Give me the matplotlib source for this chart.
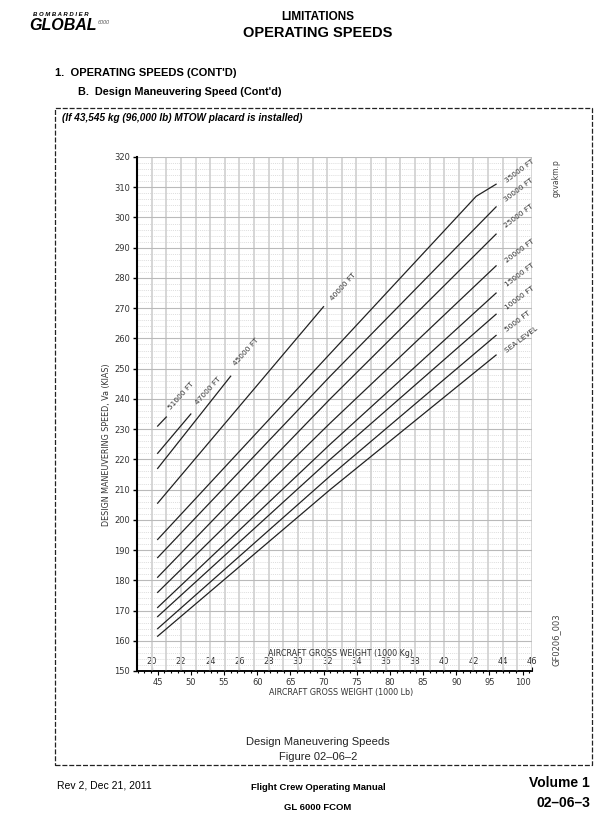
import matplotlib
matplotlib.use("Agg")
import matplotlib.pyplot as plt
import numpy as np
from matplotlib.patches import Rectangle

LB_PER_KG = 2.20462
W, H = 600, 817

# curves: gross weight (1000 lb) vs Va (KIAS)
w_common = [45, 71, 96]
v_sea = [161.5, 210, 254.5]
v_5k = [164, 214.5, 261]
v_10k = [168, 220, 268]
v_15k = [171, 225, 275]
v_20k = [176, 232, 284]
v_25k = [181, 240, 294.5]
v_30k = [187.5, 247.5, 303.5]
w_35k = [45, 93, 96]
v_35k = [193.5, 307, 311]
w_40k = [45, 70]
v_40k = [205.5, 270.5]
w_45k = [45, 56]
v_45k = [217, 247.5]
w_47k = [45, 50]
v_47k = [222, 235]
w_51k = [45, 46.3]
v_51k = [231, 234]

labels_right = ["SEA LEVEL", "5000 FT", "10000 FT", "15000 FT", "20000 FT",
                "25000 FT", "30000 FT", "35000 FT"]
labels_left = ["40000 FT", "45000 FT", "47000 FT", "51000 FT"]

y_ticks = list(range(150, 321, 10))
lb_ticks = list(range(45, 101, 5))
kg_ticks = list(range(20, 47, 2))

curves = [
    (w_common, v_sea), (w_common, v_5k), (w_common, v_10k), (w_common, v_15k),
    (w_common, v_20k), (w_common, v_25k), (w_common, v_30k), (w_35k, v_35k),
    (w_40k, v_40k), (w_45k, v_45k), (w_47k, v_47k), (w_51k, v_51k),
]
# label anchor points (data units) and rotation
right_pos = [(99.8, 259.5), (99.3, 265.5), (99.6, 273.5), (99.6, 281),
             (99.6, 289), (99.4, 300.5), (99.4, 309), (99.6, 315.5)]
left_pos = [(72.9, 277), (58.3, 255.5), (52.6, 242.8), (48.6, 241)]

doc = ["Liberation Sans", "DejaVu Sans"]


def px(x, y):
    return x / W, 1 - y / H


fig = plt.figure(figsize=(6, 8.17), dpi=100)
ax = fig.add_axes([137 / W, 1 - 671 / H, (532 - 137) / W, (671 - 157) / H])

x0, x1 = 19 * LB_PER_KG, 46 * LB_PER_KG
ax.set_xlim(x0, x1)
ax.set_ylim(150, 320)

# grid
ax.vlines(np.arange(19, 47) * LB_PER_KG, 150, 320, color="#d6d6d6", lw=1.4, zorder=1)
for v in range(152, 320, 2):
    if v % 10:
        ax.hlines(v, x0, x1, color="#d2d2d2", lw=0.5, ls=(0, (1.5, 1.5)), zorder=1)
for v in y_ticks[1:]:
    ax.hlines(v, x0, x1, color="#bababa", lw=0.8, zorder=1)

for w, v in curves:
    ax.plot(w, v, color="#222222", lw=0.9, zorder=3)

tf = dict(fontsize=5.3, color="#333333", ha="center", va="center", family="DejaVu Sans")
for (lx, ly), t in zip(right_pos, labels_right):
    ax.text(lx, ly, t, rotation=37, **tf)
for (lx, ly), t in zip(left_pos, labels_left):
    ax.text(lx, ly, t, rotation=48, **tf)

for s in ["top", "right"]:
    ax.spines[s].set_visible(False)
ax.spines["left"].set_linewidth(1.5)
ax.spines["bottom"].set_linewidth(1.1)

ax.set_yticks(y_ticks)
ax.tick_params(axis="y", direction="out", length=3, width=1, labelsize=6,
               labelcolor="#333333", pad=2)
ax.set_xticks(lb_ticks)
ax.set_xticks(range(42, 102), minor=True)
ax.tick_params(axis="x", which="major", direction="out", length=3, width=0.8,
               labelsize=6, labelcolor="#333333", pad=2)
ax.tick_params(axis="x", which="minor", direction="out", length=1.5, width=0.8)

sec = ax.secondary_xaxis("bottom", functions=(lambda x: x / LB_PER_KG,
                                              lambda x: x * LB_PER_KG))
sec.set_xticks(kg_ticks)
sec.tick_params(direction="in", length=3, width=0.8, pad=-10, labelsize=6,
                labelcolor="#333333")
sec.spines["bottom"].set_linewidth(1.1)

fig.text(*px(341, 654), "AIRCRAFT GROSS WEIGHT (1000 Kg)", fontsize=5.8,
         ha="center", va="center", color="#333333")
fig.text(*px(341, 693), "AIRCRAFT GROSS WEIGHT (1000 Lb)", fontsize=5.8,
         ha="center", va="center", color="#333333")
fig.text(*px(107, 445), "DESIGN MANEUVERING SPEED, Va (KIAS)", fontsize=5.8,
         rotation=90, ha="center", va="center", color="#333333")
fig.text(*px(556, 178), "gxvakm.p", fontsize=5.5, rotation=90, ha="center",
         va="center", color="#444444")
fig.text(*px(556, 640), "GF0206_003", fontsize=6, rotation=90, ha="center",
         va="center", color="#444444")

# page furniture
fig.text(*px(33, 14), "B O M B A R D I E R", fontsize=4.3, fontweight="bold",
         style="italic", family=doc, va="center")
fig.text(*px(29, 26), "GLOBAL", fontsize=11.5, fontweight="bold", style="italic",
         family=doc, va="center")
fig.text(*px(98, 22), "6000", fontsize=4, style="italic", family=doc, va="center",
         color="#555555")
fig.text(*px(318, 17), "LIMITATIONS", fontsize=8.5, fontweight="bold", family=doc,
         ha="center", va="center")
fig.text(*px(318, 33), "OPERATING SPEEDS", fontsize=10.5, fontweight="bold",
         family=doc, ha="center", va="center")
fig.text(*px(55, 73), "1.  OPERATING SPEEDS (CONT'D)", fontsize=8,
         fontweight="bold", family=doc, va="center")
fig.text(*px(78, 92), "B.  Design Maneuvering Speed (Cont'd)", fontsize=7.8,
         fontweight="bold", family=doc, va="center")
fig.text(*px(62, 118), "(If 43,545 kg (96,000 lb) MTOW placard is installed)",
         fontsize=7.2, fontweight="bold", style="italic", family=doc, va="center")
fig.text(*px(318, 742), "Design Maneuvering Speeds", fontsize=8, family=doc,
         ha="center", va="center", color="#222222")
fig.text(*px(318, 757), "Figure 02\u201306\u20132", fontsize=8, family=doc,
         ha="center", va="center", color="#222222")
fig.text(*px(57, 785), "Rev 2, Dec 21, 2011", fontsize=7.5, family=doc, va="center")
fig.text(*px(318, 787), "Flight Crew Operating Manual", fontsize=6.8,
         fontweight="bold", family=doc, ha="center", va="center")
fig.text(*px(318, 807), "GL 6000 FCOM", fontsize=6.8, fontweight="bold",
         family=doc, ha="center", va="center")
fig.text(*px(590, 783), "Volume 1", fontsize=10, fontweight="bold", family=doc,
         ha="right", va="center")
fig.text(*px(590, 803), "02\u201306\u20133", fontsize=10, fontweight="bold",
         family=doc, ha="right", va="center")

bx0, by0 = px(55, 765)
bx1, by1 = px(592, 108)
fig.patches.append(Rectangle((bx0, by0), bx1 - bx0, by1 - by0, transform=fig.transFigure,
                             fill=False, ls=(0, (4, 1.5)), lw=0.9, color="#222222"))

fig.savefig("out.png", dpi=100)
